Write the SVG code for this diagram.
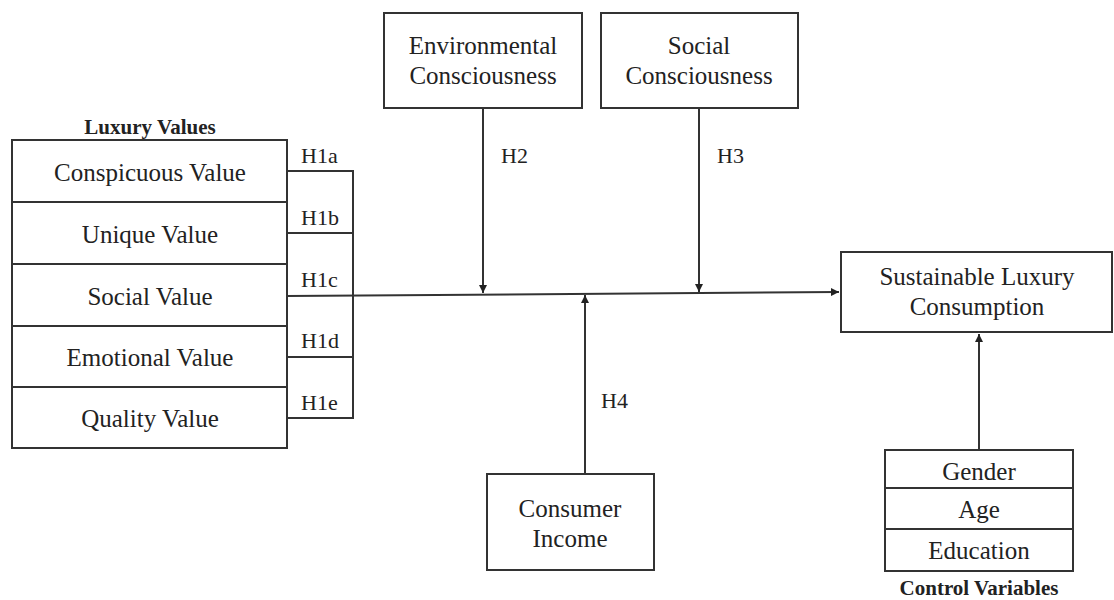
<svg xmlns="http://www.w3.org/2000/svg" width="1114" height="600" viewBox="0 0 1114 600">
<defs>
<marker id="ah" viewBox="0 0 10 10" refX="10" refY="5" markerWidth="4" markerHeight="4" orient="auto" markerUnits="strokeWidth">
<path d="M0,0 L10,5 L0,10 z" fill="#222"/>
</marker>
</defs>
<style>
rect.n{fill:#fff;stroke:#333;stroke-width:2}
line,path.c{stroke:#333;stroke-width:2;fill:none}
text{font-family:"Liberation Serif","Times New Roman",serif;font-size:25px;fill:#222;text-anchor:middle}
.b{font-weight:bold;font-size:21px}
.h{font-size:22px;text-anchor:start}
</style>
<rect width="1114" height="600" fill="#fff"/>
<g id="luxury-values">
<text class="b" x="150" y="134">Luxury Values</text>
<rect class="n" x="12" y="140" width="275" height="308"/>
<line x1="12" y1="202" x2="287" y2="202"/>
<line x1="12" y1="264" x2="287" y2="264"/>
<line x1="12" y1="326" x2="287" y2="326"/>
<line x1="12" y1="387" x2="287" y2="387"/>
<text x="150" y="181">Conspicuous Value</text>
<text x="150" y="243">Unique Value</text>
<text x="150" y="305">Social Value</text>
<text x="150" y="366">Emotional Value</text>
<text x="150" y="427">Quality Value</text>
</g>
<g id="env">
<rect class="n" x="384" y="13" width="198" height="95"/>
<text x="483" y="54">Environmental</text>
<text x="483" y="84">Consciousness</text>
</g>
<g id="social">
<rect class="n" x="601" y="13" width="197" height="95"/>
<text x="699" y="54">Social</text>
<text x="699" y="84">Consciousness</text>
</g>
<g id="income">
<rect class="n" x="487" y="474" width="167" height="96"/>
<text x="570" y="517">Consumer</text>
<text x="570" y="547">Income</text>
</g>
<g id="slc">
<rect class="n" x="841" y="252" width="271" height="80"/>
<text x="977" y="285">Sustainable Luxury</text>
<text x="977" y="315">Consumption</text>
</g>
<g id="control">
<rect class="n" x="885" y="450" width="188" height="121"/>
<line x1="885" y1="488" x2="1073" y2="488"/>
<line x1="885" y1="529" x2="1073" y2="529"/>
<text x="979" y="480">Gender</text>
<text x="979" y="518">Age</text>
<text x="979" y="559">Education</text>
<text class="b" x="979" y="595">Control Variables</text>
</g>
<g id="connectors">
<path class="c" d="M287,171 H353 V418 H287"/>
<line x1="287" y1="233" x2="353" y2="233"/>
<line x1="287" y1="357" x2="353" y2="357"/>
<line x1="287" y1="296" x2="839" y2="292" marker-end="url(#ah)"/>
<line x1="483" y1="108" x2="483" y2="293" marker-end="url(#ah)"/>
<line x1="699" y1="108" x2="699" y2="292" marker-end="url(#ah)"/>
<line x1="585" y1="474" x2="585" y2="295" marker-end="url(#ah)"/>
<line x1="979" y1="450" x2="979" y2="334" marker-end="url(#ah)"/>
<text class="h" x="301" y="163">H1a</text>
<text class="h" x="301" y="225">H1b</text>
<text class="h" x="301" y="287">H1c</text>
<text class="h" x="301" y="348">H1d</text>
<text class="h" x="301" y="410">H1e</text>
<text class="h" x="501" y="163">H2</text>
<text class="h" x="717" y="163">H3</text>
<text class="h" x="601" y="408">H4</text>
</g>
</svg>
